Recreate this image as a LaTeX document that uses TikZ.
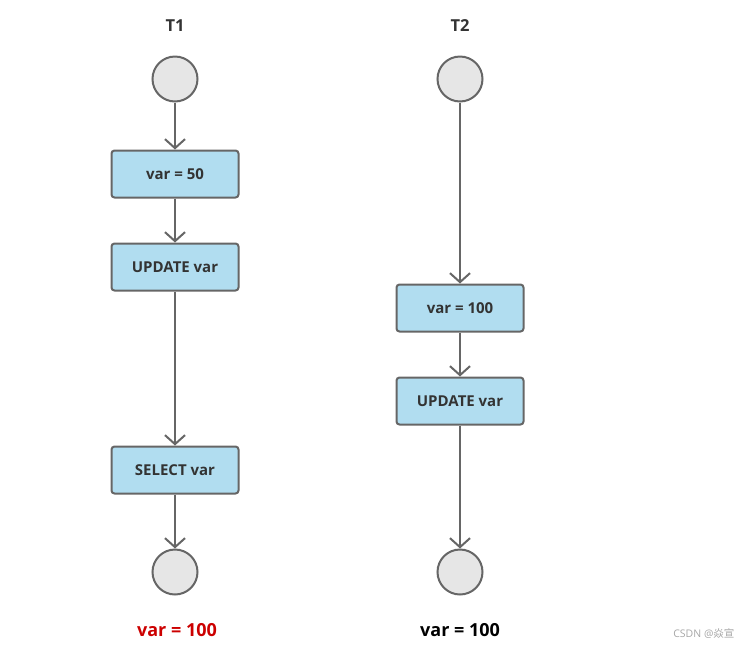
\documentclass[tikz,border=0pt]{standalone}
\usepackage{fontspec}
\setmainfont{Open Sans}
\newfontfamily\cjk{Noto Sans CJK SC}
\usetikzlibrary{arrows.meta}
\definecolor{boxfill}{HTML}{B1DDF0}
\definecolor{linegray}{HTML}{666666}
\definecolor{circfill}{HTML}{E6E6E6}
\definecolor{txt}{HTML}{333333}
\definecolor{redtxt}{HTML}{CC0000}
\tikzset{
  stepbox/.style={draw=linegray, line width=2pt, fill=boxfill, rounded corners=3pt,
    minimum width=127pt, minimum height=47pt, inner sep=0pt,
    font=\fontsize{15}{18}\selectfont\bfseries, text=txt},
  statecirc/.style={draw=linegray, line width=2pt, fill=circfill, circle, minimum size=45pt, inner sep=0pt},
  flow/.style={draw=linegray, line width=2pt, -{Straight Barb[length=9pt,width=20pt,line width=2pt]}},
  title/.style={font=\fontsize{16.5}{20}\selectfont\bfseries, text=txt},
  result/.style={font=\fontsize{18}{22}\selectfont\bfseries}
}
\begin{document}
\begin{tikzpicture}[x=1pt,y=-1pt]
\useasboundingbox (0,0) rectangle (753,649);
% T1
\node[title] (t1) at (175,26) {T1};
\node[statecirc] (s1) at (175,79) {};
\node[stepbox] (a1) at (175,174) {var = 50};
\node[stepbox] (a2) at (175,267) {UPDATE var};
\node[stepbox] (a3) at (175,470) {SELECT var};
\node[statecirc] (e1) at (175,572) {};
\node[result, text=redtxt] (r1) at (177,630) {var = 100};
\draw[flow] (s1) -- (a1);
\draw[flow] (a1) -- (a2);
\draw[flow] (a2) -- (a3);
\draw[flow] (a3) -- (e1);
% T2
\node[title] (t2) at (460,26) {T2};
\node[statecirc] (s2) at (460,79) {};
\node[stepbox] (b1) at (460,308) {var = 100};
\node[stepbox] (b2) at (460,401) {UPDATE var};
\node[statecirc] (e2) at (460,572) {};
\node[result, text=black] (r2) at (460,630) {var = 100};
\draw[flow] (s2) -- (b1);
\draw[flow] (b1) -- (b2);
\draw[flow] (b2) -- (e2);
% watermark
\node[font=\fontsize{10.5}{12}\selectfont, text=gray!70, anchor=east] (wm) at (738,634) {CSDN @{\cjk 焱宣}};
\end{tikzpicture}
\end{document}
